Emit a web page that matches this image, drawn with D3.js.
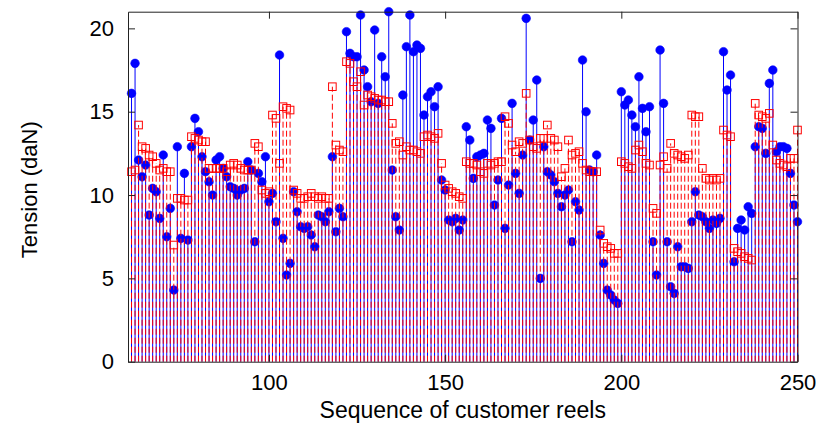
<!DOCTYPE html>
<html>
<head>
<meta charset="utf-8">
<script src="https://cdn.jsdelivr.net/npm/d3@7"></script>
<style>
  html, body { margin: 0; padding: 0; background: #fff; }
  svg { display: block; }
  text { font-family: "Liberation Sans", Arial, Helvetica, sans-serif; fill: #000; }
</style>
</head>
<body>
<svg id="chart" width="821" height="425"></svg>
<script>
// Reel numbers along the horizontal axis
const firstReel = 61;
const lastReel = 250;
const reels = d3.range(firstReel, lastReel + 1);

// Tension of each reel, first series (filled circles, solid stems)
const tensionA = [
  16.1,17.9,12.1,11.1,11.8,8.8,10.4,10.2,8.6,12.4,
  7.5,9.2,4.3,12.9,7.4,11.3,7.3,12.9,14.6,13.8,
  12.3,11.4,10.8,10.0,12.1,12.3,11.6,11.1,10.5,10.4,
  10.0,10.3,10.4,12.0,11.5,7.2,11.3,10.8,12.3,9.6,
  10.1,8.4,18.4,7.4,5.2,5.9,10.2,9.0,8.1,8.0,
  8.1,7.6,6.9,8.8,8.7,8.4,9.0,12.3,7.8,9.2,
  8.7,19.8,18.5,18.3,18.3,20.8,17.5,16.5,15.6,19.9,
  15.5,18.3,17.1,21.0,11.5,8.7,7.9,16.0,18.9,20.8,
  18.6,19.0,18.8,14.8,15.9,16.2,15.3,16.5,10.9,10.3,
  8.5,8.4,8.6,7.9,8.5,14.1,13.3,11.0,12.3,12.4,
  12.5,14.5,14.0,9.4,10.9,14.6,8.0,10.6,15.5,11.3,
  10.1,12.4,20.6,13.3,14.5,16.9,5.0,12.9,11.4,11.2,
  10.8,10.1,9.3,10.0,10.3,7.2,9.6,9.1,18.1,15.0,
  11.5,11.4,12.4,7.6,5.9,4.3,4.0,3.7,3.5,16.2,
  15.4,15.7,14.8,14.1,17.1,15.2,13.8,15.3,7.2,5.2,
  18.7,15.5,7.2,4.5,4.1,6.9,5.7,5.7,5.6,8.4,
  10.2,8.8,8.7,8.4,8.0,8.5,8.3,8.6,18.6,16.3,
  17.2,6.0,8.0,8.5,7.9,9.3,8.9,12.9,14.1,14.0,
  12.5,16.7,17.5,12.6,12.9,12.9,12.8,11.3,9.4,8.4
];

// Tension of each reel, second series (open squares, dashed stems)
const tensionB = [
  11.4,11.5,14.2,12.9,12.8,12.4,12.3,11.9,11.5,11.6,
  11.4,11.4,7.0,9.8,9.8,9.7,9.7,13.5,13.4,13.3,
  13.2,13.2,11.6,11.6,11.6,11.6,11.6,11.4,11.8,11.9,
  11.8,11.6,11.5,11.5,11.5,13.1,12.9,10.3,10.1,10.2,
  14.8,14.6,11.9,15.3,15.2,15.1,10.3,10.1,9.8,9.8,
  9.9,10.1,9.9,9.8,9.9,9.8,9.8,16.5,13.0,12.7,
  12.6,18.0,17.9,16.8,16.5,17.4,15.4,16.0,15.9,15.8,
  15.7,15.7,15.6,15.6,14.3,13.1,13.2,12.4,12.9,12.7,
  12.7,12.6,12.5,13.5,13.6,13.5,13.4,13.7,11.9,10.6,
  10.4,10.2,10.1,9.9,9.8,12.0,11.9,11.9,11.8,11.4,
  11.3,11.9,11.8,11.9,12.0,12.0,14.7,14.3,13.0,12.6,
  13.2,13.1,16.1,13.3,12.9,12.8,13.4,13.4,14.2,13.4,
  13.3,12.9,11.1,11.6,13.3,12.4,12.5,12.6,11.9,11.5,
  11.4,11.4,11.4,7.9,7.1,6.9,6.8,6.5,6.5,12.0,
  11.9,11.7,11.6,12.7,13.0,12.6,11.9,11.8,9.2,8.9,
  11.8,12.3,11.6,13.1,12.5,12.4,12.3,12.2,12.4,14.8,
  14.7,14.7,11.6,11.0,10.9,11.0,10.9,11.0,13.9,13.6,
  13.5,6.8,6.6,6.5,6.3,6.2,6.1,15.5,14.8,14.7,
  14.6,14.9,13.0,12.1,11.9,11.8,11.7,12.2,12.2,13.9
];

const xTicks = [100, 150, 200, 250];
const yTicks = [0, 5, 10, 15, 20];
const xDomain = [60, 250];
const yDomain = [0, 21];
const xTitle = "Sequence of customer reels";
const yTitle = "Tension (daN)";

const W = 821, H = 425;
const margin = { top: 11.7, right: 23.5, bottom: 63.3, left: 128 };
const innerW = W - margin.left - margin.right;
const innerH = H - margin.top - margin.bottom;

const svg = d3.select("#chart");
const plot = svg.append("g").attr("transform", `translate(${margin.left},${margin.top})`);

const x = d3.scaleLinear().domain(xDomain).range([0, innerW]);
const y = d3.scaleLinear().domain(yDomain).range([innerH, 0]);

const rowsA = reels.map((r, i) => ({ reel: r, v: tensionA[i] }));
const rowsB = reels.map((r, i) => ({ reel: r, v: tensionB[i] }));

// Solid stems with filled circles
plot.append("g").selectAll("line").data(rowsA).join("line")
  .attr("x1", d => x(d.reel)).attr("x2", d => x(d.reel))
  .attr("y1", y(0)).attr("y2", d => y(d.v))
  .attr("stroke", "#0000ff").attr("stroke-width", 1);

plot.append("g").selectAll("circle").data(rowsA).join("circle")
  .attr("cx", d => x(d.reel)).attr("cy", d => y(d.v))
  .attr("r", 4.3).attr("fill", "#0000ff").attr("stroke", "#0000ff").attr("stroke-width", 0.6);

// Dashed stems with open squares
plot.append("g").selectAll("line").data(rowsB).join("line")
  .attr("x1", d => x(d.reel)).attr("x2", d => x(d.reel))
  .attr("y1", y(0)).attr("y2", d => y(d.v))
  .attr("stroke", "#ff0000").attr("stroke-width", 1)
  .attr("stroke-dasharray", "6,3");

const sq = 7.6;
plot.append("g").selectAll("rect").data(rowsB).join("rect")
  .attr("x", d => x(d.reel) - sq / 2).attr("y", d => y(d.v) - sq / 2)
  .attr("width", sq).attr("height", sq)
  .attr("fill", "none").attr("stroke", "#ff0000").attr("stroke-width", 1);

// Axes box with inward ticks on all four sides
const tickLen = 7;
const axisColor = "#222";
const frame = svg.append("g").attr("transform", `translate(${margin.left},${margin.top})`);

const axBottom = frame.append("g").attr("transform", `translate(0,${innerH})`)
  .call(d3.axisBottom(x).tickValues(xTicks).tickSizeInner(-tickLen).tickSizeOuter(0).tickPadding(13));
const axTop = frame.append("g")
  .call(d3.axisTop(x).tickValues(xTicks).tickSizeInner(-tickLen).tickSizeOuter(0).tickFormat(""));
const axLeft = frame.append("g")
  .call(d3.axisLeft(y).tickValues(yTicks).tickSizeInner(-tickLen).tickSizeOuter(0).tickPadding(14));
const axRight = frame.append("g").attr("transform", `translate(${innerW},0)`)
  .call(d3.axisRight(y).tickValues(yTicks).tickSizeInner(-tickLen).tickSizeOuter(0).tickFormat(""));

[axBottom, axTop, axLeft, axRight].forEach(a => {
  a.select(".domain").attr("stroke", axisColor).attr("stroke-width", 1);
  a.selectAll(".tick line").attr("stroke", axisColor).attr("stroke-width", 1);
  a.selectAll(".tick text").attr("font-size", 22).attr("fill", "#000")
    .attr("font-family", "'Liberation Sans', Arial, sans-serif");
});

svg.append("text")
  .attr("x", margin.left + innerW / 2).attr("y", 418)
  .attr("text-anchor", "middle").attr("font-size", 23)
  .text(xTitle);

svg.append("text")
  .attr("transform", `translate(37,${margin.top + innerH / 2 + 3}) rotate(-90)`)
  .attr("text-anchor", "middle").attr("font-size", 22)
  .text(yTitle);
</script>
</body>
</html>
